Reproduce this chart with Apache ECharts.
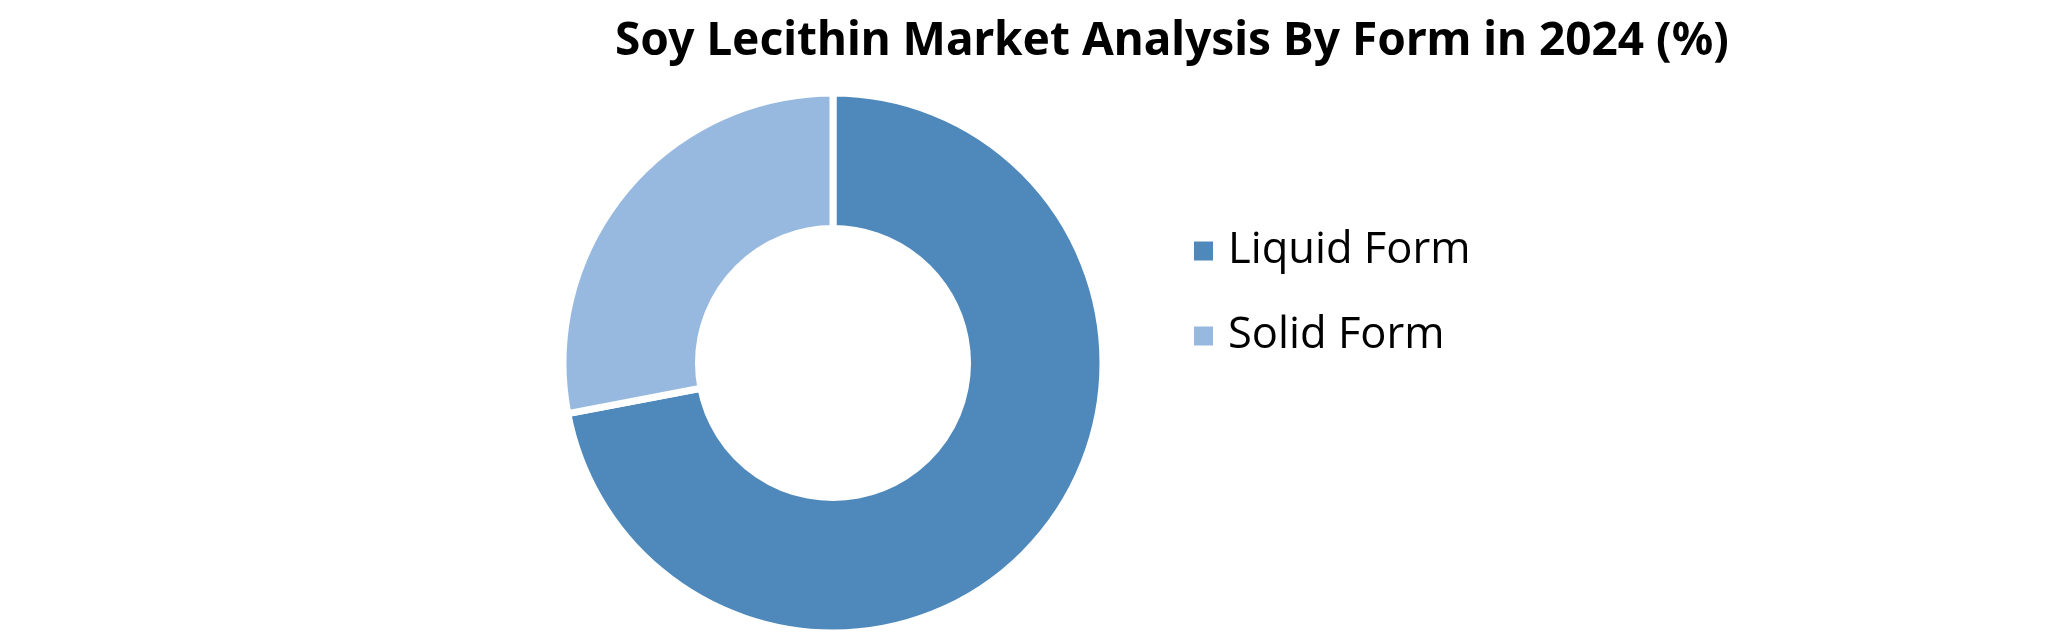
<!DOCTYPE html>
<html>
<head>
<meta charset="utf-8">
<script src="https://cdn.jsdelivr.net/npm/echarts@6/dist/echarts.min.js"></script>
<style>
html,body{margin:0;padding:0;background:#fff;}
#chart{width:2051px;height:635px;}
</style>
</head>
<body>
<div id="chart"></div>
<script>
const titleText = "Soy Lecithin Market Analysis By Form in 2024 (%)";
const categories = ["Liquid Form", "Solid Form"];
const values = [72, 28];
const colors = ["#4F89BB", "#98B9DF"];

const chart = echarts.init(document.getElementById('chart'), null, {renderer: 'canvas'});
chart.setOption({
  animation: false,
  backgroundColor: '#ffffff',
  title: {
    text: titleText,
    left: 615,
    top: 19,
    padding: 0,
    textStyle: {fontFamily: 'Noto Sans', fontWeight: 'bold', fontSize: 46, color: '#000000'}
  },
  legend: {
    orient: 'vertical',
    left: 1192,
    top: 229,
    padding: 0,
    itemWidth: 21,
    itemHeight: 21,
    itemGap: 41,
    icon: 'rect',
    selectedMode: false,
    data: categories,
    textStyle: {fontFamily: 'Open Sans', fontSize: 43.5, lineHeight: 43, color: '#000000', padding: [0,0,0,9]}
  },
  series: [{
    type: 'pie',
    center: [833, 363],
    radius: [134.5, 270],
    startAngle: 90,
    clockwise: true,
    silent: true,
    label: {show: false},
    labelLine: {show: false},
    itemStyle: {borderColor: '#ffffff', borderWidth: 7},
    data: categories.map((c, i) => ({name: c, value: values[i], itemStyle: {color: colors[i]}}))
  }]
});
</script>
</body>
</html>
